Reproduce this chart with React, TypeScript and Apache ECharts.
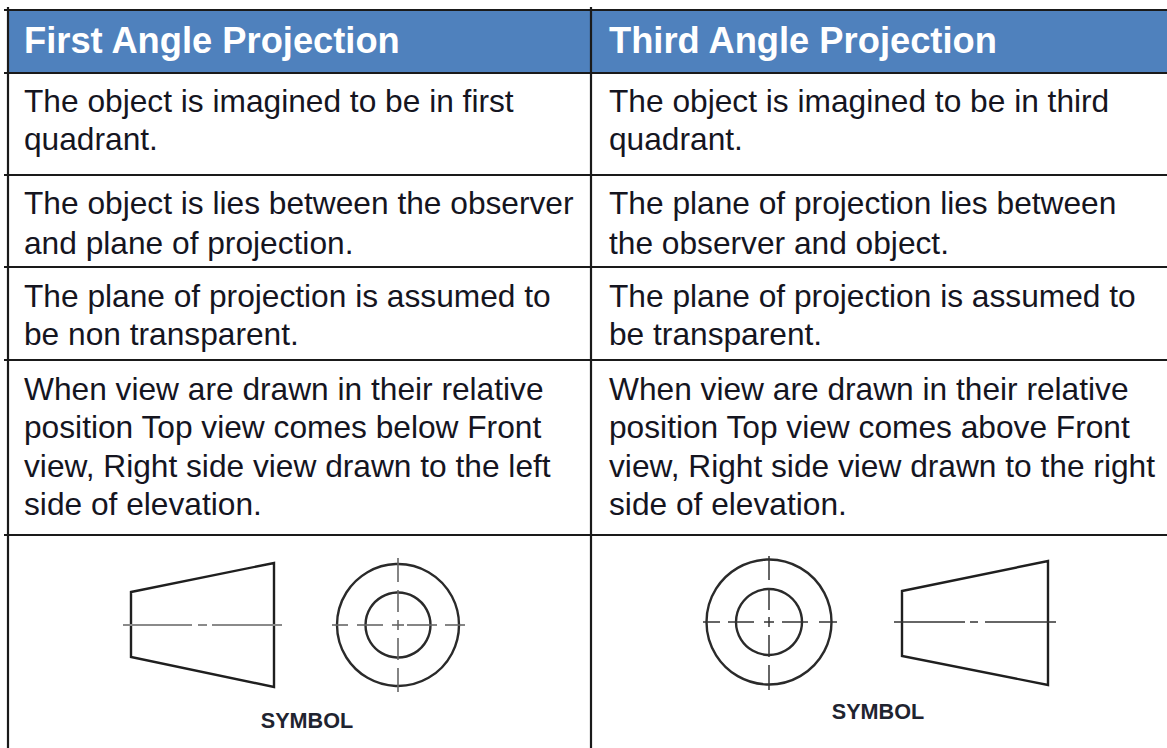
import React, { useEffect, useRef } from "react";
import * as echarts from "echarts";

const headers = ["First Angle Projection", "Third Angle Projection"];
const firstAngleRows = [
  ["The object is imagined to be in first", "quadrant."],
  ["The object is lies between the observer", "and plane of projection."],
  ["The plane of projection is assumed to", "be non transparent."],
  ["When view are drawn in their relative", "position Top view comes below Front", "view, Right side view drawn to the left", "side of elevation."],
];
const thirdAngleRows = [
  ["The object is imagined to be in third", "quadrant."],
  ["The plane of projection lies between", "the observer and object."],
  ["The plane of projection is assumed to", "be transparent."],
  ["When view are drawn in their relative", "position Top view comes above Front", "view, Right side view drawn to the right", "side of elevation."],
];
const symbolLabel = "SYMBOL";
const rowLineYs = [[101, 139], [203, 243], [296, 334], [389, 427, 466, 504]];
const hRules = [10, 73, 175, 267, 360, 535];
const colX = [24, 609];
const BODY = 31.7;
const INK = "#1a1a1a";
const FONT = "'Liberation Sans', Arial, sans-serif";

const line = (x1: number, y1: number, x2: number, y2: number, w: number, c = INK) => ({
  type: "line", shape: { x1, y1, x2, y2 }, style: { stroke: c, lineWidth: w }, silent: true,
});
const txt = (s: string, x: number, y: number, size: number, weight: string, fill: string, align = "left") => ({
  type: "text", x, y,
  style: { text: s, fontSize: size, fontWeight: weight, fontFamily: FONT, fill, align, verticalAlign: "middle" },
  silent: true,
});
const circle = (cx: number, cy: number, r: number) => ({
  type: "circle", shape: { cx, cy, r },
  style: { fill: "none", stroke: "#2a2a2a", lineWidth: 2.4 }, silent: true,
});
const trapezoid = (xl: number, xr: number, tl: number, tr: number, br: number, bl: number) => ({
  type: "polygon", shape: { points: [[xl, tl], [xr, tr], [xr, br], [xl, bl]] },
  style: { fill: "none", stroke: "#1f1f1f", lineWidth: 2.4 }, silent: true,
});
const dashed = (segs: number[][], c: string, w: number) =>
  segs.map(([a, b, d, e]) => line(a, b, d, e, w, c));

function buildGraphics() {
  const g: any[] = [];
  g.push({ type: "rect", shape: { x: 8, y: 10, width: 1159, height: 63 }, style: { fill: "#4f81bd" }, silent: true });
  headers.forEach((h, i) => g.push(txt(h, colX[i], 40, 36.3, "bold", "#ffffff")));
  [firstAngleRows, thirdAngleRows].forEach((rows, c) =>
    rows.forEach((row, r) =>
      row.forEach((s, l) => g.push(txt(s, colX[c], rowLineYs[r][l], BODY, "normal", "#15151f")))
    )
  );
  hRules.forEach((y) => g.push(line(4, y, 1167, y, 2.2)));
  g.push(line(8, 7, 8, 748, 2.2));
  g.push(line(591, 7, 591, 748, 2.2));

  // First angle symbol
  g.push(trapezoid(131, 274, 592, 563, 687, 657));
  g.push(...dashed([[123, 625, 192, 625], [198, 625, 207, 625], [212, 625, 282, 625]], "#8a8a8a", 2));
  g.push(circle(398, 625, 61), circle(398, 625, 32.5));
  g.push(...dashed([
    [332, 625, 348, 625], [357, 625, 383, 625], [392, 625, 404, 625], [407, 625, 437, 625], [445, 625, 465, 625],
    [398, 558, 398, 582], [398, 590, 398, 612], [398, 620, 398, 630], [398, 638, 398, 660], [398, 668, 398, 692],
  ], "#666", 1.6));
  g.push(txt(symbolLabel, 307, 720, 21.6, "bold", "#1f2430", "center"));

  // Third angle symbol
  g.push(circle(769, 622, 62.5), circle(769, 622, 33));
  g.push(...dashed([
    [703, 622, 720, 622], [728, 622, 754, 622], [764, 622, 774, 622], [782, 622, 808, 622], [819, 622, 837, 622],
    [769, 556, 769, 580], [769, 588, 769, 610], [769, 617, 769, 627], [769, 635, 769, 657], [769, 665, 769, 690],
  ], "#333", 1.5));
  g.push(trapezoid(902, 1048, 591, 561, 685, 656));
  g.push(...dashed([[894, 622, 965, 622], [970, 622, 978, 622], [985, 622, 1056, 622]], "#333", 1.5));
  g.push(txt(symbolLabel, 878, 711, 21.6, "bold", "#1f2430", "center"));
  return g;
}

export default function App() {
  const ref = useRef<HTMLDivElement>(null);
  useEffect(() => {
    const chart = echarts.init(ref.current!, null, { renderer: "svg" });
    chart.setOption({ animation: false, backgroundColor: "#ffffff", graphic: { elements: buildGraphics() } });
    return () => chart.dispose();
  }, []);
  return <div ref={ref} style={{ position: "fixed", left: 0, top: 0, width: 1167, height: 748 }} />;
}
